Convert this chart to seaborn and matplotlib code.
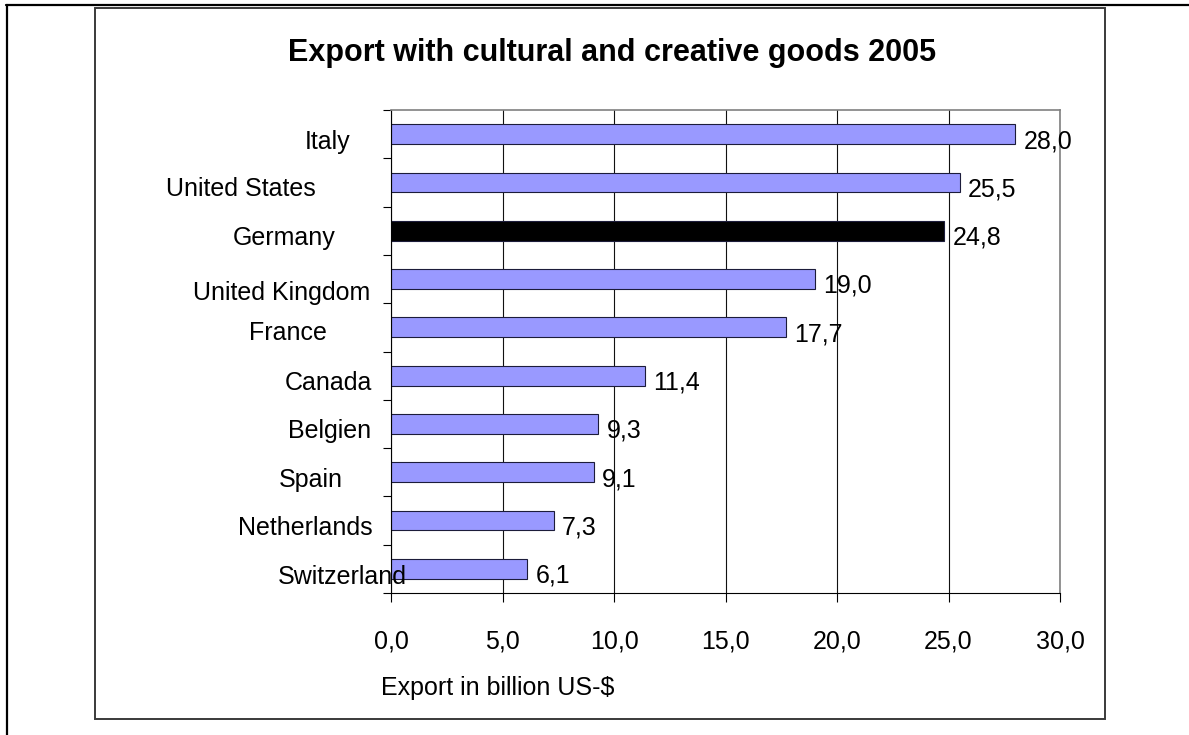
import numpy as np
import pandas as pd
import seaborn as sns
import matplotlib
matplotlib.use("Agg")
import matplotlib.pyplot as plt
from matplotlib.lines import Line2D
from matplotlib.patches import Rectangle
from matplotlib import transforms

# Data
countries = ["Italy", "United States", "Germany", "United Kingdom", "France",
             "Canada", "Belgien", "Spain", "Netherlands", "Switzerland"]
exports = [28.0, 25.5, 24.8, 19.0, 17.7, 11.4, 9.3, 9.1, 7.3, 6.1]
highlight = "Germany"
x_ticks = [0, 5, 10, 15, 20, 25, 30]
title = "Export with cultural and creative goods 2005"
x_label = "Export in billion US-$"

# Layout of the category labels (right edge in figure pixels, downward shift in pixels)
label_right_px = [350, 316, 335, 370, 327, 372, 371, 343, 373, 407]
label_shift_px = [8, 7, 7, 14, 6, 7, 7, 8, 7, 8]

W, H = 1189, 735
sns.set_style("white")
plt.rcParams["font.family"] = ["Liberation Sans", "DejaVu Sans"]
plt.rcParams["text.color"] = "black"
plt.rcParams["xtick.color"] = "black"
plt.rcParams["ytick.color"] = "black"
plt.rcParams["axes.labelcolor"] = "black"

df = pd.DataFrame({"country": countries, "export": exports})
bar_colors = ["#000000" if c == highlight else "#9999FF" for c in countries]

fig = plt.figure(figsize=(W / 100, H / 100), dpi=100)
fig.patch.set_facecolor("white")

# Page frame lines and chart box
fig.add_artist(Line2D([6 / W, 1.0], [1 - 5 / H, 1 - 5 / H], color="black", lw=1.6))
fig.add_artist(Line2D([7 / W, 7 / W], [0.0, 1 - 5 / H], color="black", lw=1.6))
fig.add_artist(Rectangle((95 / W, 1 - 719 / H), (1105 - 95) / W, (719 - 8) / H,
                         fill=False, edgecolor="#3a3a3a", lw=1.4,
                         transform=fig.transFigure))

ax = fig.add_axes([391 / W, 1 - 593 / H, (1060 - 391) / W, (593 - 110) / H])
ax.set_axisbelow(True)
sns.barplot(data=df, x="export", y="country", hue="country", palette=bar_colors,
            legend=False, orient="h", width=0.41, edgecolor="#1c1c3a",
            linewidth=0.8, saturation=1, ax=ax)

ax.set_xlim(0, 30)
ax.set_ylim(len(countries) - 0.5, -0.5)
ax.set_xticks(x_ticks)
ax.set_xticklabels([f"{t:.1f}".replace(".", ",") for t in x_ticks], fontsize=18,
                   color="black")
ax.set_yticks(np.arange(-0.5, len(countries), 1.0))
ax.set_yticklabels([])
ax.tick_params(axis="x", direction="out", length=6.5, width=0.8, color="black",
               labelcolor="black", pad=20, bottom=True)
ax.tick_params(axis="y", direction="out", length=6, width=0.8, color="black",
               left=True)
ax.set_xlabel("")
ax.set_ylabel("")
ax.xaxis.grid(True, color="#111111", lw=0.8)
ax.yaxis.grid(False)

for side in ["left", "bottom"]:
    ax.spines[side].set_color("black")
    ax.spines[side].set_linewidth(0.8)
for side in ["top", "right"]:
    ax.spines[side].set_color("#808080")
    ax.spines[side].set_linewidth(1.2)

# Value labels next to each bar
for i, v in enumerate(exports):
    ax.annotate(f"{v:.1f}".replace(".", ","), xy=(v, i), xytext=(6, -5),
                textcoords="offset points", ha="left", va="center", fontsize=18,
                color="black")

# Category labels
base = transforms.blended_transform_factory(fig.transFigure, ax.transData)
for i, name in enumerate(countries):
    tr = transforms.offset_copy(base, fig=fig, x=0, y=-label_shift_px[i], units="dots")
    ax.text(label_right_px[i] / W, i, name, transform=tr, ha="right", va="center",
            fontsize=18, color="black", zorder=5)

fig.text(612 / W, 1 - 53 / H, title, ha="center", va="center", fontsize=22,
         fontweight="bold", color="black")
fig.text(381 / W, 1 - 688 / H, x_label, ha="left", va="center", fontsize=18,
         color="black")

fig.savefig("out.png", dpi=100, facecolor="white")
